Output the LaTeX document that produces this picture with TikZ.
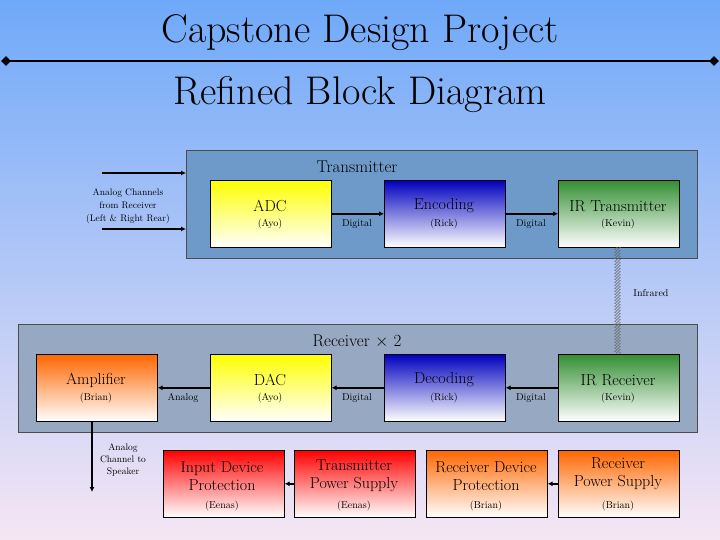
\documentclass[tikz,border=0pt]{standalone}
\usetikzlibrary{decorations.pathmorphing,arrows.meta,shapes.geometric}
\definecolor{bgtop}{HTML}{6FA9F9}
\definecolor{bgbot}{HTML}{F6E6F4}
\definecolor{txbox}{HTML}{6D9AC9}
\definecolor{rxbox}{HTML}{97A9C2}
\begin{document}
\begin{tikzpicture}[x=1pt,y=-1pt,
  blk/.style={draw=black,line width=0.6pt,minimum width=121pt,minimum height=67pt,anchor=north west,inner sep=0pt},
  ttl/.style={font=\fontsize{16}{18}\selectfont},
  sub/.style={font=\fontsize{10}{12}\selectfont},
  lbl/.style={font=\fontsize{10}{12}\selectfont},
  arr/.style={line width=1.6pt,-{Latex[length=5pt,width=5pt]}},
  yel/.style={blk,top color=yellow,bottom color=white},
  blu/.style={blk,top color=blue!75!black,bottom color=white},
  grn/.style={blk,top color=green!45!black!80,bottom color=white},
  org/.style={blk,top color=orange!80!red,bottom color=white},
  red/.style={blk,top color=red,bottom color=white}]
\useasboundingbox (0,0) rectangle (720,540);
\fill[top color=bgtop,bottom color=bgbot] (0,0) rectangle (720,540);
% title
\node[font=\fontsize{40}{44}\selectfont] (t1) at (360,33) {Capstone Design Project};
\node[font=\fontsize{40}{44}\selectfont] (t2) at (360,95) {Refined Block Diagram};
\coordinate (la) at (6,61); \coordinate (lb) at (714,61);
\draw[line width=2pt] (la) -- (lb);
\node[diamond,fill=black,inner sep=2.5pt] (da) at (la) {};
\node[diamond,fill=black,inner sep=2.5pt] (db) at (lb) {};
% transmitter
\node[draw=black!70,fill=txbox,minimum width=511pt,minimum height=108pt,anchor=north west,inner sep=0pt] (tx) at (186,150) {};
\node[font=\fontsize{17}{19}\selectfont] (txt) at (357,167) {Transmitter};
\node[yel] (adc) at (210,180) {};
\node[ttl] at (270,206) {ADC}; \node[sub] at (270,224) {(Ayo)};
\node[blu] (enc) at (384,180) {};
\node[ttl] at (444,206) {Encoding}; \node[sub] at (444,224) {(Rick)};
\node[grn] (irt) at (558,180) {};
\node[ttl] at (618,206) {IR Transmitter}; \node[sub] at (618,224) {(Kevin)};
\draw[arr] (adc.east) -- (enc.west);
\draw[arr] (enc.east) -- (irt.west);
\node[lbl] at (357,224) {Digital};
\node[lbl] at (531,224) {Digital};
\coordinate (in1) at (102,173); \coordinate (in2) at (102,229);
\draw[arr] (in1) -- (in1 -| tx.west);
\draw[arr] (in2) -- (in2 -| tx.west);
\node[align=center,font=\fontsize{9.5}{13}\selectfont] at (128,206) {Analog Channels\\from Receiver\\(Left \& Right Rear)};
% receiver
\node[draw=black!70,fill=rxbox,minimum width=679pt,minimum height=108pt,anchor=north west,inner sep=0pt] (rx) at (18,324) {};
\node[font=\fontsize{17}{19}\selectfont] at (357,341) {Receiver $\times$ 2};
\node[org] (amp) at (36,354) {};
\node[ttl] at (96,380) {Amplifier}; \node[sub] at (96,398) {(Brian)};
\node[yel] (dac) at (210,354) {};
\node[ttl] at (270,380) {DAC}; \node[sub] at (270,398) {(Ayo)};
\node[blu] (dec) at (384,354) {};
\node[ttl] at (444,380) {Decoding}; \node[sub] at (444,398) {(Rick)};
\node[grn] (irr) at (558,354) {};
\node[ttl] at (618,380) {IR Receiver}; \node[sub] at (618,398) {(Kevin)};
\draw[arr] (irr.west) -- (dec.east);
\draw[arr] (dec.west) -- (dac.east);
\draw[arr] (dac.west) -- (amp.east);
\node[lbl] at (183,398) {Analog};
\node[lbl] at (357,398) {Digital};
\node[lbl] at (531,398) {Digital};
\coordinate (z1) at (616,247); \coordinate (z2) at (616,354);
\coordinate (z3) at (619,247); \coordinate (z4) at (619,354);
\draw[decorate,decoration={zigzag,segment length=3pt,amplitude=1.5pt},line width=0.4pt,black!60] (z1) -- (z2);
\draw[decorate,decoration={zigzag,segment length=3pt,amplitude=1.5pt},line width=0.4pt,black!60] (z3) -- (z4);
\node[font=\fontsize{10}{12}\selectfont] at (651,293) {Infrared};
% speaker
\coordinate (spk) at (92,492);
\draw[arr] (amp.south -| spk) -- (spk);
\node[align=center,font=\fontsize{9.5}{12}\selectfont] at (123,460) {Analog\\Channel to\\Speaker};
% bottom
\node[red] (idp) at (163,450) {};
\node[ttl,align=center] at (222,476) {Input Device\\Protection}; \node[sub] at (222,506) {(Eenas)};
\node[red] (tps) at (294,450) {};
\node[ttl,align=center] at (354,476) {Transmitter\\Power Supply}; \node[sub] at (354,506) {(Eenas)};
\node[org] (rdp) at (426,450) {};
\node[ttl,align=center] at (486,476) {Receiver Device\\Protection}; \node[sub] at (486,506) {(Brian)};
\node[org] (rps) at (558,450) {};
\node[ttl,align=center] at (618,474) {Receiver\\Power Supply}; \node[sub] at (618,506) {(Brian)};
\draw[arr] (tps.west) -- (idp.east);
\draw[arr] (rps.west) -- (rdp.east);
\end{tikzpicture}
\end{document}
